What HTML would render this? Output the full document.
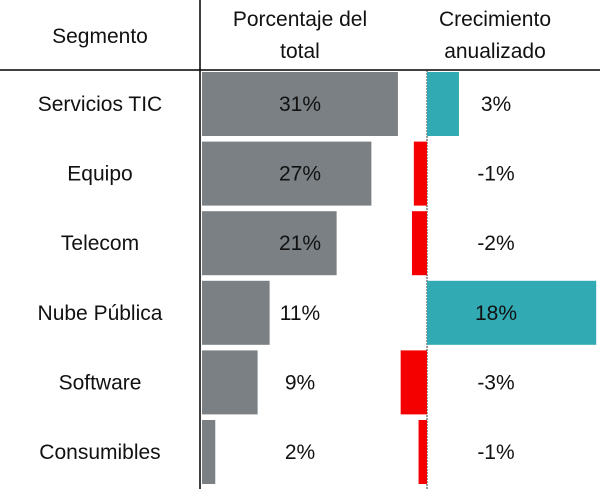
<!DOCTYPE html>
<html><head><meta charset="utf-8"><style>
body{margin:0;background:#fff;}
svg text{font-family:"Liberation Sans",sans-serif;font-size:21px;fill:#111;}
</style></head><body>
<svg id="c" width="600" height="489">
<text x="100" y="43" text-anchor="middle">Segmento</text>
<text x="300" y="26" text-anchor="middle">Porcentaje del</text>
<text x="300" y="58" text-anchor="middle">total</text>
<text x="495" y="26" text-anchor="middle">Crecimiento</text>
<text x="495" y="58" text-anchor="middle">anualizado</text>
<line x1="0" y1="70" x2="600" y2="70" stroke="#000" stroke-width="1.5"/>
<line x1="200" y1="0" x2="200" y2="489" stroke="#000" stroke-width="1.5"/>
<line x1="427" y1="70" x2="427" y2="489" stroke="#333" stroke-width="1" stroke-dasharray="2,1"/>
</svg>
<script>
const categories=["Servicios TIC","Equipo","Telecom","Nube Pública","Software","Consumibles"];
const shareValues=[31,26.8,21.3,10.7,8.8,2.1];
const shareLabels=["31%","27%","21%","11%","9%","2%"];
const growthValues=[3.4,-1.4,-1.6,18,-2.8,-0.9];
const growthLabels=["3%","-1%","-2%","18%","-3%","-1%"];
const svg=document.getElementById('c');
const NS='http://www.w3.org/2000/svg';
const rowY=i=>72+i*69.6, rowH=64;
const xShare=v=>202+v*6.32;
const xGrowth=v=>427+v*9.4;
function mk(t,a){const e=document.createElementNS(NS,t);for(const k in a)e.setAttribute(k,a[k]);svg.appendChild(e);return e;}
categories.forEach((c,i)=>{
  const y=rowY(i);
  let t=mk('text',{x:100,y:y+rowH/2+7,'text-anchor':'middle'});t.textContent=c;
  
  
  let r=mk('rect',{x:202,y:y,width:xShare(shareValues[i])-202,height:rowH,fill:'#7a8084'});
  
  
  t=mk('text',{x:300,y:y+rowH/2+7,'text-anchor':'middle'});t.textContent=shareLabels[i];
  
  
  const g=growthValues[i],x0=Math.min(xGrowth(0),xGrowth(g)),w=Math.abs(xGrowth(g)-xGrowth(0));
  r=mk('rect',{x:x0,y:y,width:w,height:rowH,fill:g>=0?'#31aab3':'#f50000'});
  
  
  t=mk('text',{x:496,y:y+rowH/2+7,'text-anchor':'middle'});t.textContent=growthLabels[i];
  
  
});
</script>
</body></html>
